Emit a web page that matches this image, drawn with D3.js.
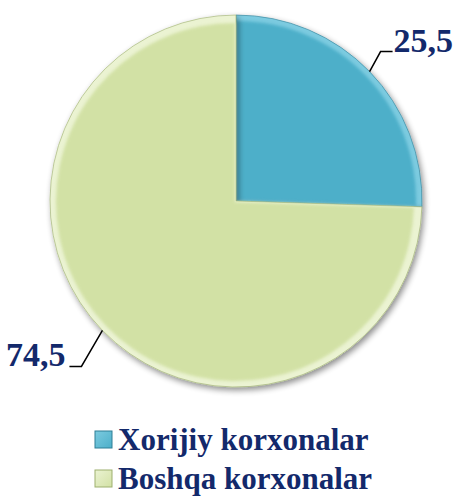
<!DOCTYPE html>
<html><head><meta charset="utf-8">
<script src="https://cdn.jsdelivr.net/npm/d3@7"></script>
<style>html,body{margin:0;padding:0;background:#fff;}svg{display:block;}</style>
</head><body>
<script>
const categories = ["Xorijiy korxonalar", "Boshqa korxonalar"];
const values = [25.5, 74.5];
const valueLabels = ["25,5", "74,5"];
const colors = ["#4DAFC9", "#D2E1A5"];
const lightColors = ["#7CCBE0", "#EBF3D2"];
const darkColors = ["#2E7F96", "#9DAF6E"];

const W = 454, H = 497;
const cx = 236, cy = 201, R = 186;
const textColor = "#13296B";
const font = "'Liberation Serif','Times New Roman',serif";

const svg = d3.select("body").append("svg").attr("width", W).attr("height", H);
const defs = svg.append("defs");

const shadow = defs.append("filter").attr("id", "shadow").attr("x", "-20%").attr("y", "-20%").attr("width", "140%").attr("height", "140%");
shadow.append("feGaussianBlur").attr("in", "SourceAlpha").attr("stdDeviation", 3).attr("result", "b");
shadow.append("feOffset").attr("in", "b").attr("dx", 2).attr("dy", 3).attr("result", "o");
shadow.append("feComponentTransfer").attr("in", "o").attr("result", "s").append("feFuncA").attr("type", "linear").attr("slope", 0.45);
const m = shadow.append("feMerge");
m.append("feMergeNode").attr("in", "s");
m.append("feMergeNode").attr("in", "SourceGraphic");

colors.forEach((c, i) => {
  const g = defs.append("linearGradient").attr("id", "lg" + i).attr("x1", 0).attr("y1", 0).attr("x2", 1).attr("y2", 1);
  g.append("stop").attr("offset", "0%").attr("stop-color", lightColors[i]);
  g.append("stop").attr("offset", "100%").attr("stop-color", c);
});

const pie = d3.pie().sort(null).value(d => d);
const arcs = pie(values);
const arc = d3.arc().innerRadius(0).outerRadius(R);
const arcInner = d3.arc().innerRadius(0).outerRadius(R - 7);

const g = svg.append("g").attr("transform", `translate(${cx},${cy})`);

arcs.forEach((a, i) => {
  const sg = g.append("g").attr("filter", "url(#shadow)");
  sg.append("path").attr("d", arc(a)).attr("fill", lightColors[i])
    .attr("stroke", darkColors[i]).attr("stroke-width", 1).attr("stroke-opacity", 0.6);
  const mid = (a.startAngle + a.endAngle) / 2;
  const ox = 1.4 * Math.sin(mid), oy = -1.4 * Math.cos(mid);
  g.append("path").attr("d", arcInner(a))
    .attr("transform", `translate(${ox},${oy})`)
    .attr("fill", colors[i]).attr("style", "filter:blur(1.5px)");
});

const elbowOffsets = [[11, -20], [-21, 36]];
const horiz = [12, -12];
arcs.forEach((a, i) => {
  const mid = (a.startAngle + a.endAngle) / 2;
  const ex = R * Math.sin(mid), ey = -R * Math.cos(mid);
  const bx = ex + elbowOffsets[i][0], by = ey + elbowOffsets[i][1];
  const hx = bx + horiz[i];
  g.append("polyline").attr("points", `${ex},${ey} ${bx},${by} ${hx},${by}`)
    .attr("fill", "none").attr("stroke", "#000").attr("stroke-width", 1.5);
  g.append("text").attr("x", hx + (horiz[i] > 0 ? 1 : -4)).attr("y", by)
    .attr("text-anchor", horiz[i] > 0 ? "start" : "end")
    .attr("font-family", font).attr("font-weight", "bold").attr("font-size", 34)
    .attr("fill", textColor).text(valueLabels[i]);
});

const lg = svg.append("g");
categories.forEach((c, i) => {
  const y0 = 431 + i * 39;
  lg.append("rect").attr("x", 95).attr("y", y0).attr("width", 17).attr("height", 17)
    .attr("fill", `url(#lg${i})`).attr("stroke", darkColors[i]).attr("stroke-width", 1);
  lg.append("text").attr("x", 118).attr("y", y0 + 19)
    .attr("font-family", font).attr("font-weight", "bold").attr("font-size", 31)
    .attr("fill", textColor).text(c);
});
</script>
</body></html>
